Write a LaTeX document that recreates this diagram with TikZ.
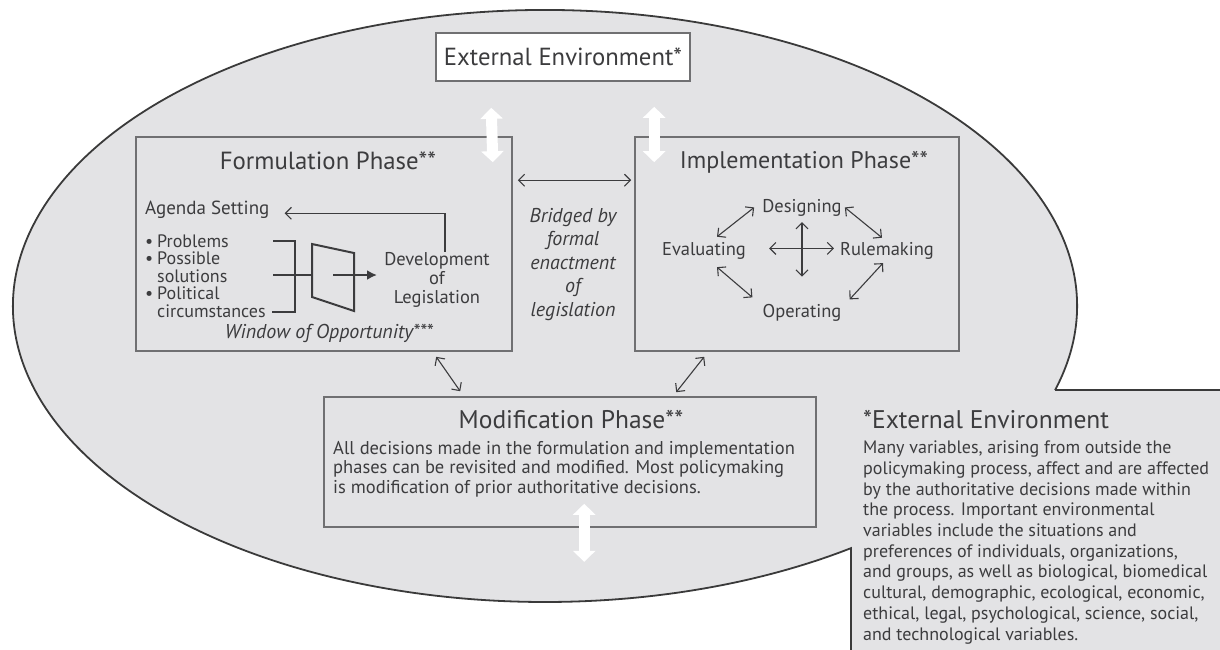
\documentclass[tikz,border=0pt]{standalone}
\usepackage{fontspec}
\setmainfont{PT Sans}
\usetikzlibrary{arrows.meta,calc}
\definecolor{blob}{HTML}{E3E3E5}
\definecolor{ink}{HTML}{3C3C3E}
\definecolor{frame}{HTML}{707072}
\definecolor{rim}{HTML}{3A3A3A}
\newcommand\myBul{\makebox[12pt][l]{\textbullet}}
\newcommand\myInd{\hspace*{12pt}}
\begin{document}
\begin{tikzpicture}[x=1pt,y=-1pt,
  phasebox/.style={draw=frame,line width=1.6pt,inner sep=0pt},
  heading/.style={font=\fontsize{24}{28}\selectfont,text=ink,inner sep=0pt,anchor=base},
  lbl/.style={font=\fontsize{18.5}{20}\selectfont,text=ink,inner sep=0pt},
  link/.style={draw=ink,line width=1.1pt,{Straight Barb[length=6pt,width=12pt]}-{Straight Barb[length=6pt,width=12pt]}},
  bigarrow/.style={draw=white,line width=11pt,{Triangle[length=11pt,width=22pt]}-{Triangle[length=11pt,width=22pt]}},
  ]
\useasboundingbox (0,0) rectangle (1220,649);

% backdrop: ellipse joined with the note panel
\fill[blob] (545,306) ellipse [x radius=532, y radius=296];
\fill[blob] (851,390) rectangle (1230,660);
\draw[rim,line width=1.8pt] (545,306) ++(16.5:532 and 296) coordinate (notch)
  arc[start angle=16.5,end angle=-305.1,x radius=532,y radius=296] -- (851,660);
\draw[rim,line width=1.8pt] (notch) -- (1230,390);

% phase boxes
\node[phasebox,fill=white,minimum width=254pt,minimum height=48pt,
      font=\fontsize{24.7}{28}\selectfont,text=ink] (ext) at (563,57) {External Environment*};
\node[phasebox,minimum width=376pt,minimum height=214pt] (form) at (324,244) {};
\node[phasebox,minimum width=324pt,minimum height=214pt] (impl) at (797,244) {};
\node[phasebox,minimum width=492pt,minimum height=130pt] (mod) at (570,462) {};

\node[heading,font=\fontsize{24.8}{28}\selectfont] (formtitle) at (328,169) {Formulation Phase**};
\node[heading] (impltitle) at (804,168) {Implementation Phase**};
\node[heading,font=\fontsize{25.5}{28}\selectfont] (modtitle) at (571,428) {Modification Phase**};

% white exchange arrows with the environment
\coordinate (below) at ($(mod.south west)+(261,34)$);
\draw[bigarrow] ($(ext.south west)+(56,26)$) -- ($(form.north east)+(-20,26)$);
\draw[bigarrow] ($(ext.south west)+(219,25)$) -- ($(impl.north west)+(20,26)$);
\draw[bigarrow] ($(mod.south west)+(261,-24)$) -- (below);

% links between phases
\draw[link] ($(form.north east)+(5,44)$) -- ($(impl.north west)+(-3,44)$);
\draw[link] ($(form.south west)+(301,5)$) -- ($(mod.north west)+(137,-5)$);
\draw[link] ($(impl.south west)+(70,5)$) -- ($(mod.north west)+(353,-4)$);

\node[lbl,anchor=base,align=center,font=\itshape\fontsize{20}{23.5}\selectfont]
  (bridge) at (573,316) {Bridged by\\formal\\enactment\\of\\legislation};

% formulation phase
\node[lbl,anchor=base west,font=\fontsize{19}{20}\selectfont] (agenda) at (145,214) {Agenda Setting};
\node[lbl,anchor=base west,align=left,font=\fontsize{18}{17.5}\selectfont] (factors) at (145,317)
  {\myBul Problems\\\myBul Possible\\\myInd solutions\\\myBul Political\\\myInd circumstances};
\node[lbl,anchor=base,align=center,font=\fontsize{18.5}{19}\selectfont] (dev) at (437,303)
  {Development\\of\\Legislation};
\node[lbl,anchor=base,font=\itshape\fontsize{20}{22}\selectfont] (window) at (329,338)
  {Window of Opportunity***};

\draw[ink,line width=1.5pt] (273,241) -| (295,312) -- (272,312);
\draw[ink,line width=1.5pt] (273,275) -- (312,275);
\draw[ink,line width=2pt,line join=miter] (312,244) -- (354,253) -- (354,311) -- (312,297) -- cycle;
\coordinate (gate) at (333,275);
\draw[ink,line width=2pt,-{Latex[length=10pt,width=10pt]}] (gate) -- ++(44,0);
\draw[ink,line width=1.2pt,-{Straight Barb[length=6pt,width=12pt]}]
  ($(dev.north)+(8,0)$) |- ($(agenda.east)+(15,4)$);

% implementation phase
\node[lbl,anchor=base] (des) at (802,212) {Designing};
\node[lbl,anchor=base] (eval) at (704,255) {Evaluating};
\node[lbl,anchor=base] (rule) at (887,255) {Rulemaking};
\node[lbl,anchor=base] (op) at (802,317) {Operating};
\draw[link] ($(eval.north)+(13,-5)$) -- ($(des.west)+(-8,0)$);
\draw[link] ($(des.east)+(3,0)$) -- ($(rule.north)+(-5,-4)$);
\draw[link] ($(rule.south)+(-4,4)$) -- ($(op.east)+(8,-13)$);
\draw[link] ($(eval.south)+(13,8)$) -- ($(op.west)+(-10,-15)$);
\draw[link] ($(eval.east)+(23,-2)$) -- ($(rule.west)+(-6,-2)$);
\draw[link] ($(des.south)+(0,6)$) -- ($(op.north)+(0,-27)$);

% modification phase
\node[lbl,anchor=base west,align=left,font=\fontsize{18.5}{19.2}\selectfont] (modtext) at (333,493)
  {All decisions made in the formulation and implementation\\
   phases can be revisited and modified. Most policymaking\\
   is modification of prior authoritative decisions.};

% note on the environment
\node[heading,anchor=base west,font=\fontsize{25.5}{28}\selectfont] (notetitle) at (863,428) {*External Environment};
\node[lbl,anchor=base west,align=left,font=\fontsize{18}{20.7}\selectfont] (notetext) at (863,640)
  {Many variables, arising from outside the\\
   policymaking process, affect and are affected\\
   by the authoritative decisions made within\\
   the process. Important environmental\\
   variables include the situations and\\
   preferences of individuals, organizations,\\
   and groups, as well as biological, biomedical\\
   cultural, demographic, ecological, economic,\\
   ethical, legal, psychological, science, social,\\
   and technological variables.};
\end{tikzpicture}
\end{document}
